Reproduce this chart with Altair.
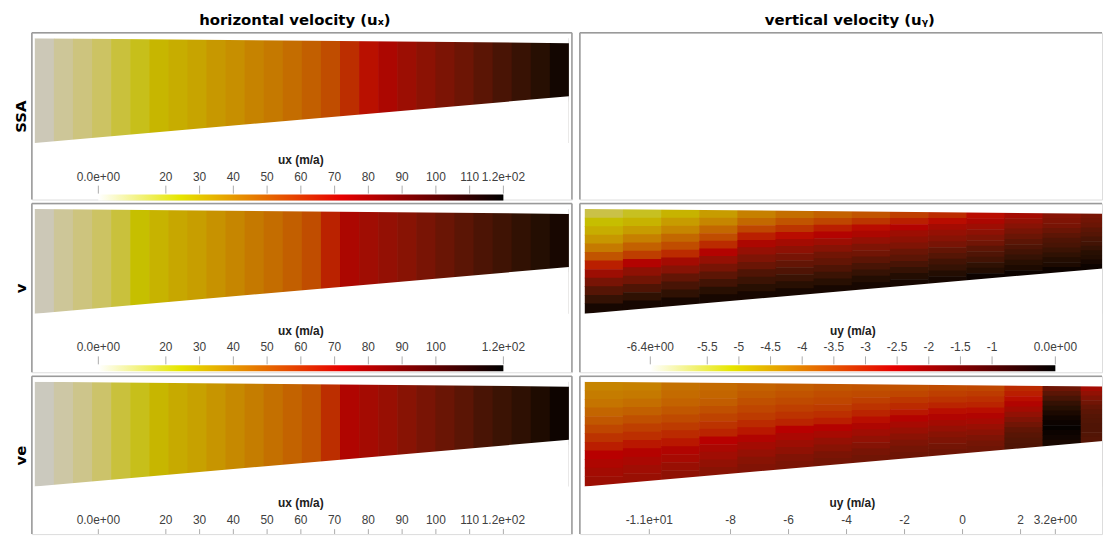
import altair as alt
import numpy as np
import pandas as pd

# ---------------- data ----------------
# glacier geometry (along-flow distance in km, elevation in m)
x_nodes = [0, 100]
surface = [1000, 953]
bed = [0, 446]

# horizontal velocity ux (m/a), one value per vertical column (left -> right)
ux_ssa = [2, 7, 11, 15, 20, 23, 27, 30, 33, 37, 40, 44, 47, 51, 55, 60, 67, 71, 75, 79, 83, 87, 91, 96, 101, 106, 111, 117]
ux_v = [2, 7, 11, 15, 20, 24, 28, 32, 35, 39, 43, 47, 51, 55, 60, 69, 75, 78, 81, 84, 88, 92, 96, 100, 104, 108, 112, 116]
ux_ve = [1, 5, 9, 14, 20, 23, 27, 31, 34, 38, 42, 46, 50, 54, 58, 67, 74, 77, 80, 84, 88, 92, 96, 101, 105, 109, 114, 118]

# vertical velocity uy (m/a): one list per column (left -> right), values from surface to bed
uy_v_cols = [
    [-5.4, -5.1, -4.8, -4.4, -3.9, -3.3, -2.7, -2.2, -1.7, -1.2, -0.7, -0.2],
    [-5.2, -4.9, -4.5, -4.0, -3.5, -3.0, -2.5, -2.0, -1.6, -1.1, -0.6, -0.2],
    [-4.9, -4.5, -4.1, -3.6, -3.2, -2.8, -2.3, -1.9, -1.4, -1.0, -0.6, -0.2],
    [-4.5, -4.1, -3.6, -3.2, -2.8, -2.5, -2.1, -1.7, -1.3, -0.9, -0.5, -0.2],
    [-4.0, -3.6, -3.1, -2.7, -2.4, -2.1, -1.8, -1.5, -1.1, -0.8, -0.5, -0.2],
    [-3.7, -3.3, -2.9, -2.6, -2.3, -2.0, -1.7, -1.4, -1.1, -0.8, -0.5, -0.2],
    [-3.5, -3.1, -2.7, -2.5, -2.2, -1.9, -1.6, -1.4, -1.1, -0.8, -0.5, -0.2],
    [-3.3, -2.9, -2.6, -2.4, -2.1, -1.8, -1.6, -1.3, -1.0, -0.7, -0.4, -0.2],
    [-3.0, -2.7, -2.5, -2.2, -2.0, -1.8, -1.5, -1.3, -1.0, -0.7, -0.4, -0.2],
    [-2.8, -2.6, -2.3, -2.1, -1.9, -1.7, -1.4, -1.2, -0.9, -0.7, -0.4, -0.2],
    [-2.6, -2.4, -2.2, -2.0, -1.8, -1.6, -1.3, -1.1, -0.9, -0.6, -0.4, -0.1],
    [-2.3, -2.1, -1.9, -1.7, -1.5, -1.3, -1.1, -0.9, -0.7, -0.5, -0.3, -0.1],
    [-1.9, -1.8, -1.7, -1.5, -1.3, -1.1, -1.0, -0.8, -0.6, -0.4, -0.3, -0.1],
    [-1.7, -1.6, -1.5, -1.3, -1.2, -1.0, -0.9, -0.7, -0.5, -0.4, -0.2, -0.1],
]
uy_ve_cols = [
    [-5.7, -5.4, -5.1, -4.6, -4.1, -3.6, -3.1, -2.7, -2.4, -2.1, -1.8, -1.6],
    [-5.6, -5.3, -4.9, -4.4, -3.9, -3.4, -3.0, -2.6, -2.3, -2.0, -1.7, -1.5],
    [-5.0, -4.8, -4.5, -4.1, -3.7, -3.3, -2.9, -2.6, -2.2, -1.9, -1.5, -1.2],
    [-4.8, -4.6, -4.3, -3.9, -3.5, -3.1, -2.8, -2.4, -2.0, -1.7, -1.3, -1.0],
    [-4.5, -4.2, -3.9, -3.6, -3.3, -2.9, -2.6, -2.2, -1.8, -1.4, -1.0, -0.8],
    [-4.3, -4.0, -3.7, -3.4, -3.1, -2.8, -2.4, -2.0, -1.6, -1.2, -0.8, -0.6],
    [-4.1, -3.8, -3.6, -3.3, -3.0, -2.7, -2.3, -1.9, -1.4, -1.0, -0.6, -0.4],
    [-4.0, -3.7, -3.4, -3.1, -2.8, -2.5, -2.1, -1.7, -1.3, -0.9, -0.5, -0.3],
    [-3.9, -3.6, -3.2, -2.9, -2.6, -2.3, -1.9, -1.5, -1.1, -0.7, -0.4, -0.2],
    [-3.7, -3.4, -3.1, -2.8, -2.5, -2.2, -1.8, -1.4, -1.0, -0.7, -0.4, -0.2],
    [-3.6, -3.3, -3.0, -2.8, -2.5, -2.2, -1.9, -1.5, -1.1, -0.7, -0.4, -0.2],
    [-2.9, -2.7, -2.5, -2.2, -1.8, -1.3, -0.8, -0.3, 0.2, 0.5, 0.7, 0.8],
    [-0.2, 0.4, 1.0, 1.7, 2.2, 2.6, 2.9, 3.0, 3.1, 3.0, 2.9, 2.7],
    [-1.8, -1.3, -0.8, -0.3, 0.1, 0.4, 0.6, 0.7, 0.8, 0.8, 0.7, 0.6],
]

# colour-bar ranges, ticks and labels
ux_range = [0, 120]
ux_ticks = [0, 20, 30, 40, 50, 60, 70, 80, 90, 100, 110, 120]
ux_labels = ["0.0e+00", "20", "30", "40", "50", "60", "70", "80", "90", "100", "110", "1.2e+02"]
ux_ticks_v = [0, 20, 30, 40, 50, 60, 70, 80, 90, 100, 120]
ux_labels_v = ["0.0e+00", "20", "30", "40", "50", "60", "70", "80", "90", "100", "1.2e+02"]
uy_v_range = [-6.4, 0.0]
uy_v_ticks = [-6.4, -5.5, -5, -4.5, -4, -3.5, -3, -2.5, -2, -1.5, -1, 0]
uy_v_labels = ["-6.4e+00", "-5.5", "-5", "-4.5", "-4", "-3.5", "-3", "-2.5", "-2", "-1.5", "-1", "0.0e+00"]
uy_ve_range = [-10.8, 3.2]
uy_ve_ticks = [-10.8, -8, -6, -4, -2, 0, 2, 3.2]
uy_ve_labels = ["-1.1e+01", "-8", "-6", "-4", "-2", "0", "2", "3.2e+00"]

row_names = ["SSA", "v", "ve"]
col_titles = ["horizontal velocity (u\u2093)", "vertical velocity (u\u1d67)"]

# ---------------- style ----------------
FIELD_RANGE = ["#cbc9c4", "#c6bf00", "#b80000", "#000000"]   # shaded colour map
BAR_COLORS = ["#ffffff", "#e6e600", "#e60000", "#000000"]    # colour-bar colour map
STOPS = [0.0, 0.2, 0.6, 1.0]
BORDER = "#9a9a9a"
LABEL_FONT = "Liberation Sans"
TITLE_FONT = "DejaVu Sans"

LEFT_W, RIGHT_W = 544, 526
ROW_H = [168, 170, 159]
XR_LEFT, XR_RIGHT = [3, 541], [5, 543]
Y_RANGE = [111, 5.5]
TOP, FLOOR = max(surface), min(bed)
PAD = 30        # mask overhang (elevation units)
OVX = 0.12      # cell overlap along x (km) to hide antialiasing seams
OVY = 6         # cell overlap along y (m)


def gx(xr):
    return alt.Scale(domain=[x_nodes[0], x_nodes[-1]], range=xr, nice=False, zero=False)


def gy():
    return alt.Scale(domain=[FLOOR, TOP], range=Y_RANGE, nice=False, zero=False)


def columns_df(vals):
    n = len(vals)
    L = x_nodes[-1] - x_nodes[0]
    rows = []
    for j, v in enumerate(vals):
        x0 = x_nodes[0] + L * j / n
        x1 = x_nodes[0] + L * (j + 1) / n + (OVX if j < n - 1 else 0)
        rows.append({"x0": x0, "x1": x1, "ytop": TOP, "ybot": FLOOR, "value": v})
    return pd.DataFrame(rows)


def grid_df(cols):
    n, m = len(cols), len(cols[0])
    L = x_nodes[-1] - x_nodes[0]
    rows = []
    for j in range(n):
        x0 = x_nodes[0] + L * j / n
        x1 = x_nodes[0] + L * (j + 1) / n + (OVX if j < n - 1 else 0)
        xc = x_nodes[0] + L * (j + 0.5) / n
        s = np.interp(xc, x_nodes, surface)
        b = np.interp(xc, x_nodes, bed)
        h = s - b
        for k in range(m):
            yt = TOP if k == 0 else s - h * k / m
            yb = FLOOR if k == m - 1 else s - h * (k + 1) / m - OVY
            rows.append({"x0": x0, "x1": x1, "ytop": yt, "ybot": yb, "value": cols[j][k]})
    return pd.DataFrame(rows)


def field_layers(df, vr, xr, clip):
    vmin, vmax = vr
    R = vmax - vmin
    cs = alt.Scale(type="linear", domain=[vmin + s * R for s in STOPS], range=FIELD_RANGE,
                   interpolate="lab")
    cells = alt.Chart(df).mark_rect(clip=clip).encode(
        x=alt.X("x0:Q", scale=gx(xr), axis=None), x2="x1:Q",
        y=alt.Y("ytop:Q", scale=gy(), axis=None), y2="ybot:Q",
        color=alt.Color("value:Q", scale=cs, legend=None),
    )
    geo = pd.DataFrame({"x": x_nodes, "surface": surface, "bed": bed,
                        "top": [TOP + PAD] * len(x_nodes), "floor": [FLOOR - PAD] * len(x_nodes)})
    top_mask = alt.Chart(geo).mark_area(color="white", clip=clip).encode(
        x=alt.X("x:Q", scale=gx(xr), axis=None),
        y=alt.Y("surface:Q", scale=gy(), axis=None), y2="top:Q")
    bot_mask = alt.Chart(geo).mark_area(color="white", clip=clip).encode(
        x=alt.X("x:Q", scale=gx(xr), axis=None),
        y=alt.Y("bed:Q", scale=gy(), axis=None), y2="floor:Q")
    return [cells, top_mask, bot_mask]


def colorbar_layers(vr, ticks, labels, title, cbr, clip):
    vmin, vmax = vr
    cb = alt.Scale(domain=[vmin, vmax], range=cbr, nice=False, zero=False)
    grad = alt.LinearGradient(
        gradient="linear", x1=0, x2=1, y1=0, y2=0,
        stops=[alt.GradientStop(offset=o, color=c) for o, c in zip(STOPS, BAR_COLORS)])
    bar = alt.Chart(pd.DataFrame({"lo": [vmin], "hi": [vmax]})).mark_rect(
        color=grad, clip=clip).encode(
        x=alt.X("lo:Q", scale=cb, axis=None), x2="hi:Q",
        y=alt.value(163), y2=alt.value(169))
    tdf = pd.DataFrame({"v": ticks, "label": labels})
    tk = alt.Chart(tdf).mark_rule(color="#ababab", strokeWidth=1, clip=clip).encode(
        x=alt.X("v:Q", scale=cb, axis=None), y=alt.value(154), y2=alt.value(162))
    lab = alt.Chart(tdf).mark_text(font=LABEL_FONT, fontSize=12, color="#404040",
                                   align="center", baseline="middle").encode(
        x=alt.X("v:Q", scale=cb, axis=None), y=alt.value(145), text="label:N")
    ttl = alt.Chart(pd.DataFrame({"t": [title]})).mark_text(
        font=LABEL_FONT, fontSize=12, fontWeight="bold", color="#202020",
        align="center", baseline="middle").encode(
        x=alt.value((cbr[0] + cbr[1]) / 2), y=alt.value(128), text="t:N")
    return [bar, tk, lab, ttl]


def border_layers(W, H, row_label, right_border):
    one = pd.DataFrame({"a": [0], "b": [1]})
    if row_label is not None:
        ax = alt.Axis(title=row_label, labels=False, ticks=False, domain=False, grid=False,
                      orient="left", titleFont=TITLE_FONT, titleFontSize=15,
                      titleFontWeight="bold", titleColor="#000000", titlePadding=3,
                      minExtent=0)
    else:
        ax = None
    left = alt.Chart(one).mark_rule(color=BORDER, strokeWidth=1.5).encode(
        x=alt.value(0), y=alt.Y("a:Q", scale=alt.Scale(domain=[0, 1], nice=False), axis=ax),
        y2="b:Q")
    top = alt.Chart(one).mark_rule(color=BORDER, strokeWidth=1.5).encode(
        x=alt.value(0), x2=alt.value(W), y=alt.value(0))
    out = [left, top]
    if right_border:
        out.append(alt.Chart(one).mark_rule(color=BORDER, strokeWidth=1.5).encode(
            x=alt.value(W), y=alt.value(0), y2=alt.value(H)))
    return out


def panel(layers, W, H, title=None, dx=0):
    ch = alt.layer(*layers).resolve_scale(
        x="independent", y="independent", color="independent"
    ).properties(width=W, height=H)
    if title is not None:
        ch = ch.properties(title=alt.TitleParams(
            text=title, font=TITLE_FONT, fontSize=15, fontWeight="bold", color="#000000",
            anchor="middle", frame="group", offset=4, dx=dx))
    return ch


# ---------------- panels ----------------
p11 = panel(field_layers(columns_df(ux_ssa), ux_range, XR_LEFT, False)
            + colorbar_layers(ux_range, ux_ticks, ux_labels, "ux (m/a)", [67, 475], False)
            + border_layers(LEFT_W, ROW_H[0], row_names[0], True),
            LEFT_W, ROW_H[0], col_titles[0], dx=-7)
p12 = panel(border_layers(RIGHT_W, ROW_H[0], None, False),
            RIGHT_W, ROW_H[0], col_titles[1], dx=9)

p21 = panel(field_layers(columns_df(ux_v), ux_range, XR_LEFT, False)
            + colorbar_layers(ux_range, ux_ticks_v, ux_labels_v, "ux (m/a)", [67, 475], False)
            + border_layers(LEFT_W, ROW_H[1], row_names[1], True),
            LEFT_W, ROW_H[1])
p22 = panel(field_layers(grid_df(uy_v_cols), uy_v_range, XR_RIGHT, True)
            + colorbar_layers(uy_v_range, uy_v_ticks, uy_v_labels, "uy (m/a)", [71, 479], False)
            + border_layers(RIGHT_W, ROW_H[1], None, False),
            RIGHT_W, ROW_H[1])

p31 = panel(field_layers(columns_df(ux_ve), ux_range, XR_LEFT, False)
            + colorbar_layers(ux_range, ux_ticks, ux_labels, "ux (m/a)", [67, 475], True)
            + border_layers(LEFT_W, ROW_H[2], row_names[2], True),
            LEFT_W, ROW_H[2])
p32 = panel(field_layers(grid_df(uy_ve_cols), uy_ve_range, XR_RIGHT, True)
            + colorbar_layers(uy_ve_range, uy_ve_ticks, uy_ve_labels, "uy (m/a)", [70, 479], True)
            + border_layers(RIGHT_W, ROW_H[2], None, False),
            RIGHT_W, ROW_H[2])

chart = alt.vconcat(
    alt.hconcat(p11, p12, spacing=4),
    alt.hconcat(p21, p22, spacing=4),
    alt.hconcat(p31, p32, spacing=4),
    spacing=0,
).properties(
    padding={"left": 5, "top": 2, "right": 0, "bottom": 0}
).configure_view(stroke=None).configure(background="white")

chart.save("out.html", embed_options={"renderer": "svg", "actions": False})
